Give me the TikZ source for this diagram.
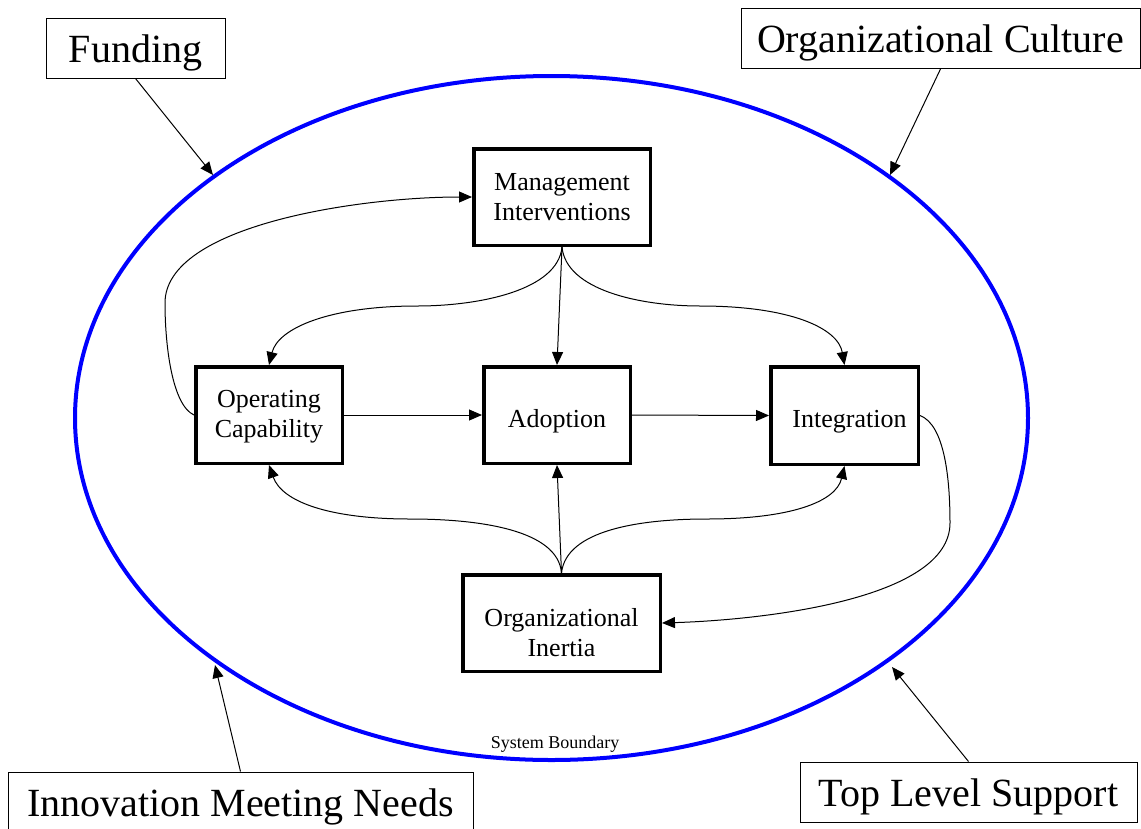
\documentclass[tikz,border=0pt]{standalone}
\usepackage{fontspec}
\setmainfont{Liberation Serif}
\usetikzlibrary{arrows.meta}
\begin{document}
\begin{tikzpicture}[x=1pt,y=-1pt,
  outer/.style={draw, line width=1pt, inner sep=0pt, font=\fontsize{40}{48}\selectfont,
    text height=30pt, text depth=2pt, minimum height=60pt},
  box/.style={draw, line width=3.5pt, inner sep=0pt, align=center,
    font=\fontsize{26}{30}\selectfont, minimum height=96.5pt},
  boxtext/.style={inner sep=0pt, align=center, font=\fontsize{26}{30}\selectfont},
  one/.style={text height=24pt, text depth=0pt},
  arr/.style={-{Triangle[length=13pt,width=11pt]}, line width=1pt},
]
\useasboundingbox (0,0) rectangle (1141,828);
\fill[white] (0,0) rectangle (1141,828);

% system boundary
\draw[blue, line width=4pt] (551.5,418) ellipse [x radius=476.5pt, y radius=342pt];
\node[font=\fontsize{18}{20}\selectfont] (sb) at (555,744) {System Boundary};

% points on the boundary
\coordinate (e1) at (213,175);
\coordinate (e2) at (890,175);
\coordinate (e3) at (215,665);
\coordinate (e4) at (892,667);

% outer factors
\node[outer, minimum width=179pt] (fund) at (135.5,48) {Funding};
\node[outer, minimum width=399pt] (cult) at (940.5,38.5) {Organizational Culture};
\node[outer, minimum width=465pt] (innov) at (240.5,802) {Innovation Meeting Needs};
\node[outer, minimum width=337pt] (top) at (968.5,792) {Top Level Support};

% inner boxes
\node[box, minimum width=176.5pt] (mi) at (562,197) {Management\\Interventions};
\node[box, minimum width=146.5pt,
  label={[boxtext, yshift=-2pt]center:{Operating\\Capability}}] (oc) at (269,415) {};
\node[box, one, minimum width=146.5pt] (ad) at (557,415) {Adoption};
\node[box, one, minimum width=147.5pt, minimum height=97.5pt] (in) at (844.5,415.5) {\hspace*{10pt}Integration};
\node[box, minimum width=197.5pt,
  label={[boxtext, yshift=-9.5pt]center:{Organizational\\Inertia}}] (oi) at (561.5,623) {};

% outer arrows
\draw[arr] (fund.south) -- (e1);
\draw[arr] (cult.south) -- (e2);
\draw[arr] (innov.north) -- (e3);
\draw[arr] (top.north) -- (e4);

% inner connectors
\draw[arr] (oc.west) .. controls (172,405) and (165,345) .. (165,303)
  .. controls (165,225) and (360,197) .. (mi.west);
\draw[arr] (mi.south) .. controls (558,290) and (480,306) .. (417,306)
  .. controls (330,306) and (278,328) .. (oc.north);
\draw[arr] (mi.south) -- (ad.north);
\draw[arr] (mi.south) .. controls (566,290) and (640,306) .. (700,306)
  .. controls (790,306) and (838,328) .. (in.north);
\draw[arr] (oc.east) -- (ad.west);
\draw[arr] (ad.east) -- (in.west);
\draw[arr] (oi.north) -- (ad.south);
\draw[arr] (oi.north) .. controls (558,530) and (480,519) .. (410,519)
  .. controls (330,519) and (282,502) .. (oc.south);
\draw[arr] (oi.north) .. controls (566,530) and (640,519) .. (707,519)
  .. controls (790,519) and (836,502) .. (in.south);
\draw[arr] (in.east) .. controls (945,425) and (950,480) .. (950,523)
  .. controls (950,600) and (760,620) .. (oi.east);
\end{tikzpicture}
\end{document}
